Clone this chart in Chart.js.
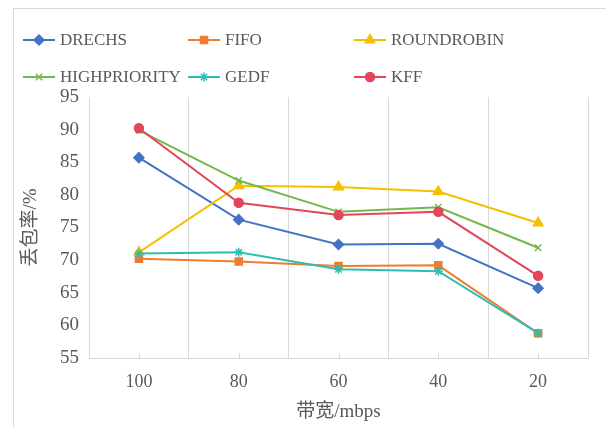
<!DOCTYPE html>
<html>
<head>
<meta charset="utf-8">
<script src="https://cdn.jsdelivr.net/npm/chart.js@4.4.0/dist/chart.umd.min.js"></script>
<style>
    html, body { margin: 0; padding: 0; background: #fff; }
    #wrap { position: relative; width: 606px; height: 427px; overflow: hidden; }
    #frame { position: absolute; left: 13px; top: 8px; right: -2px; bottom: -2px;
             border-left: 1px solid #d9d9d9; border-top: 1px solid #d9d9d9; }
    canvas { position: absolute; left: 0; top: 0; }
</style>
</head>
<body>
<div id="wrap">
    <div id="frame"></div>
    <canvas id="lossChart" width="606" height="427"></canvas>
</div>
<script>
// Data
const categories = ['100', '80', '60', '40', '20'];
const drechs = [85.7, 76.2, 72.4, 72.5, 65.7];
const fifo = [70.2, 69.8, 69.1, 69.2, 58.8];
const roundrobin = [71.2, 81.4, 81.2, 80.5, 75.7];
const highpriority = [89.9, 82.2, 77.4, 78.1, 71.9];
const gedf = [71.0, 71.2, 68.6, 68.3, 58.8];
const kff = [90.2, 78.8, 76.9, 77.4, 67.6];
const yMin = 55, yMax = 95, yStep = 5;

const series = [
    { label: 'DRECHS', data: drechs, color: '#4472c4', style: 'rectRot', radius: 5 },
    { label: 'FIFO', data: fifo, color: '#ed7d31', style: 'rect', radius: 5 },
    { label: 'ROUNDROBIN', data: roundrobin, color: '#f5bf00', style: 'triangle', radius: 5.5 },
    { label: 'HIGHPRIORITY', data: highpriority, color: '#74b84a', style: 'crossRot', radius: 4.5 },
    { label: 'GEDF', data: gedf, color: '#2ebdb0', style: 'star', radius: 4.5 },
    { label: 'KFF', data: kff, color: '#e2465a', style: 'circle', radius: 4.5 }
];

const FONT = "'Liberation Serif', 'Noto Sans CJK SC', serif";
const TEXT = '#595959';
const GRID = '#d9d9d9';

// Legend drawn in a 3 x 2 grid like the original
const legendGrid = {
    id: 'legendGrid',
    afterDraw(chart) {
        const ctx = chart.ctx;
        const cols = [23, 188, 354];
        const rows = [40, 77];
        ctx.save();
        ctx.font = '17px ' + FONT;
        ctx.textBaseline = 'middle';
        series.forEach((s, i) => {
            const x = cols[i % 3];
            const y = rows[Math.floor(i / 3)];
            ctx.strokeStyle = s.color;
            ctx.fillStyle = s.color;
            ctx.lineWidth = 2;
            ctx.beginPath();
            ctx.moveTo(x, y);
            ctx.lineTo(x + 32, y);
            ctx.stroke();
            ctx.lineWidth = 1.5;
            Chart.helpers.drawPoint(ctx, { pointStyle: s.style, radius: s.radius, rotation: 0, borderWidth: 1.5 }, x + 16, y);
            ctx.fillStyle = TEXT;
            ctx.fillText(s.label, x + 37, y + 1);
        });
        ctx.restore();
    }
};

// Short inward tick marks at category centres on the x axis
const centreTicks = {
    id: 'centreTicks',
    beforeDatasetsDraw(chart) {
        const xs = chart.scales.x;
        const ctx = chart.ctx;
        ctx.save();
        ctx.strokeStyle = GRID;
        ctx.lineWidth = 1;
        categories.forEach((c, i) => {
            const px = Math.round(xs.getPixelForValue(i)) + 0.5;
            ctx.beginPath();
            ctx.moveTo(px, chart.chartArea.bottom);
            ctx.lineTo(px, chart.chartArea.bottom - 5);
            ctx.stroke();
        });
        ctx.restore();
    }
};

const ctx = document.getElementById('lossChart').getContext('2d');
new Chart(ctx, {
    type: 'line',
    data: {
        labels: categories,
        datasets: series.map((s, i) => ({
            label: s.label,
            data: s.data,
            borderColor: s.color,
            backgroundColor: s.color,
            pointStyle: s.style,
            pointRadius: s.radius,
            pointBorderWidth: 1.5,
            borderWidth: 2,
            tension: 0,
            order: series.length - i
        }))
    },
    options: {
        responsive: false,
        animation: false,
        layout: { padding: { top: 97, right: 18, left: 0, bottom: 0 } },
        plugins: {
            legend: { display: false },
            tooltip: { enabled: false }
        },
        scales: {
            x: {
                offset: true,
                afterFit(scale) { scale.height = 69; },
                grid: { offset: true, color: GRID, drawTicks: false },
                border: { color: GRID },
                ticks: { color: TEXT, font: { family: FONT, size: 18 }, padding: 13, maxRotation: 0 },
                title: {
                    display: true, text: '带宽/mbps', color: TEXT,
                    font: { family: FONT, size: 19 }, padding: { top: 4, bottom: 4 }
                }
            },
            y: {
                min: yMin,
                max: yMax,
                afterFit(scale) { scale.width = 89; },
                grid: { display: false, drawTicks: false },
                border: { display: true, color: GRID },
                ticks: { stepSize: yStep, color: TEXT, font: { family: FONT, size: 19 }, padding: 10 },
                title: {
                    display: true, text: '丢包率/%', color: TEXT,
                    font: { family: FONT, size: 19 }, padding: { top: 20, bottom: 20 }
                }
            }
        }
    },
    plugins: [legendGrid, centreTicks]
});
</script>
</body>
</html>
